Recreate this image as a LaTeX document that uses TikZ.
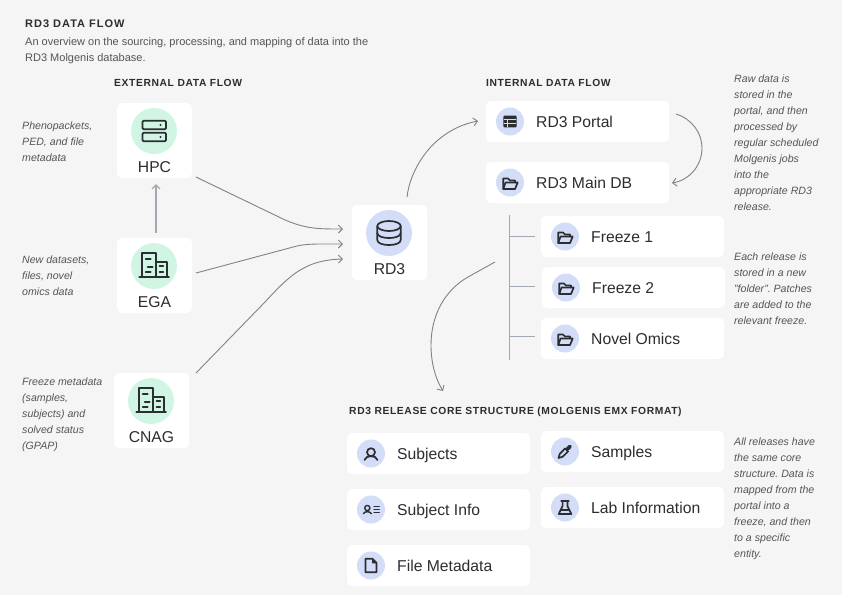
\documentclass[tikz,border=0pt]{standalone}
\usepackage{fontspec}
\usepackage{tikz}
\usetikzlibrary{arrows.meta}
\setmainfont{Liberation Sans}
\newfontfamily\headfont[LetterSpace=6]{Liberation Sans}
\newfontfamily\titlefont[LetterSpace=9]{Liberation Sans}
\definecolor{bgcolor}{RGB}{245,245,245}
\definecolor{inkcolor}{RGB}{43,45,48}
\definecolor{notecolor}{RGB}{85,85,88}
\definecolor{bluecolor}{RGB}{211,221,247}
\definecolor{greencolor}{RGB}{209,245,227}
\definecolor{flowcolor}{RGB}{125,131,140}
\definecolor{treecolor}{RGB}{163,169,178}
\tikzset{
    card/.style={fill=white, rounded corners=5pt, inner sep=0pt, outer sep=0pt},
    listcard/.style={card, minimum width=183pt, minimum height=41pt},
    bigcard/.style={card, minimum width=75pt, minimum height=75pt},
    bluedot/.style={circle, fill=bluecolor, minimum size=28pt, inner sep=0pt},
    greendot/.style={circle, fill=greencolor, minimum size=46pt, inner sep=0pt},
    listtext/.style={anchor=base west, inner sep=0pt, text=inkcolor, font=\fontsize{15.7}{18}\selectfont},
    bigtext/.style={anchor=base, inner sep=0pt, text=inkcolor, font=\fontsize{15.7}{18}\selectfont},
    heading/.style={anchor=base west, inner sep=0pt, text=inkcolor, font=\headfont\bfseries\fontsize{10.3}{12}\selectfont},
    bighead/.style={heading, font=\titlefont\bfseries\fontsize{11}{12}\selectfont},
    blurb/.style={anchor=north west, inner sep=0pt, align=left, text=notecolor, font=\fontsize{11}{16}\selectfont},
    note/.style={blurb, font=\itshape\fontsize{10.6}{16}\selectfont},
    flow/.style={draw=flowcolor, line width=0.9pt, -{Straight Barb[length=4pt,width=8pt]}},
    upflow/.style={flow, draw=treecolor, line width=1.3pt},
    treeline/.style={draw=treecolor, line width=0.9pt},
    icon/.style={draw=inkcolor, line width=1.7pt, line join=round, line cap=round},
    % Icons, drawn round the centre of their dot
    servericon/.pic={
        \draw[icon, rounded corners=1.2pt] (-11.5,-10.3) rectangle (12,-1.7);
        \draw[icon, rounded corners=1.2pt] (-11.5,1.7) rectangle (12,10.3);
        \fill[inkcolor] (6.5,-6) circle (1.2);
        \fill[inkcolor] (6.5,6) circle (1.2);
    },
    buildingicon/.pic={
        \draw[icon] (-14.7,10.7) -- (15,10.7);
        \draw[icon] (-12.3,10.7) -- (-12.3,-12.7) -- (2,-12.7) -- (2,10.7);
        \draw[icon] (2,-4.3) -- (12.7,-4.3) -- (12.7,10.7);
        \draw[icon] (-8.3,-7) -- (-3.3,-7);
        \draw[icon] (-6.3,0.7) -- (-1.3,0.7);
        \draw[icon] (-8.3,5.7) -- (-3.3,5.7);
        \draw[icon] (5.5,0) -- (9.3,0);
        \draw[icon] (5.5,5.7) -- (9.3,5.7);
    },
    dbicon/.pic={
        \draw[icon] (0,-7) ellipse (11.7 and 5);
        \draw[icon] (-11.7,-7) -- (-11.7,7) .. controls (-11.7,13.7) and (11.7,13.7) .. (11.7,7) -- (11.7,-7);
        \draw[icon] (-11.7,0) .. controls (-11.7,6.7) and (11.7,6.7) .. (11.7,0);
    },
    tableicon/.pic={
        \fill[inkcolor, rounded corners=1pt] (-6.7,-5.8) rectangle (6.7,5.8);
        \draw[bluecolor, line width=0.5pt] (-6,-2.4) -- (6,-2.4);
        \draw[bluecolor, line width=0.5pt] (-6,1.5) -- (6,1.5);
        \draw[bluecolor, line width=0.5pt] (-3,-2.4) -- (-3,5);
    },
    foldericon/.pic={
        \draw[icon] (-6.7,6.5) -- (-6.7,-4) -- (-2,-4) -- (0,-2) -- (5,-2) -- (5,0);
        \draw[icon] (-6.7,6.5) -- (5,6.5) -- (7.7,0) -- (-4.5,0) -- cycle;
    },
    usericon/.pic={
        \draw[icon] (0,-1.3) circle (4);
        \draw[icon] (-6.5,6.5) .. controls (-5.5,3.5) and (-3,2.7) .. (0,2.7) .. controls (3,2.7) and (5.5,3.5) .. (6.5,6.5);
    },
    contacticon/.pic={
        \draw[icon, line width=1.4pt] (-3.7,-1.5) circle (2.6);
        \draw[icon, line width=1.4pt] (-7.7,4.2) .. controls (-6.5,1.5) and (-1,1.5) .. (0.3,4.2);
        \draw[icon, line width=1.4pt] (3,-3) -- (8.3,-3);
        \draw[icon, line width=1.4pt] (3,0) -- (8.3,0);
        \draw[icon, line width=1.4pt] (3,3) -- (8.3,3);
    },
    fileicon/.pic={
        \draw[icon] (-5.5,-6.7) -- (1.5,-6.7) -- (5.5,-2.7) -- (5.5,6.7) -- (-5.5,6.7) -- cycle;
        \fill[inkcolor] (1,-6.7) -- (5.5,-2.2) -- (1,-2.2) -- cycle;
    },
    pipetteicon/.pic={
        \draw[icon] (-6.5,6.5) -- (-5.2,2.3) -- (0,-3) -- (3,0) -- (-2.3,5.2) -- cycle;
        \draw[icon, line width=3.6pt] (2.3,-2.3) -- (5,-5);
    },
    flaskicon/.pic={
        \draw[icon] (-3.8,-6.7) -- (3.8,-6.7);
        \draw[icon] (-2.4,-6.7) -- (-2.4,-1.5) -- (-6.3,6.5) -- (6.3,6.5) -- (2.4,-1.5) -- (2.4,-6.7);
        \draw[icon] (-4.3,2.6) -- (4.3,2.6);
    },
}

\begin{document}
\frenchspacing
\begin{tikzpicture}[x=1pt, y=-1pt, >=Stealth]
    % Page
    \fill[bgcolor] (0,0) rectangle (842,595);
    \useasboundingbox (0,0) rectangle (842,595);

    % Title and section headings
    \node[bighead] (title) at (25,27) {RD3 DATA FLOW};
    \node[blurb] (subtitle) at (25,37) {An overview on the sourcing, processing, and mapping of data into the\\RD3 Molgenis database.};
    \node[heading] (externalhead) at (114,86) {EXTERNAL DATA FLOW};
    \node[heading] (internalhead) at (486,86) {INTERNAL DATA FLOW};
    \node[heading] (corehead) at (349,414) {RD3 RELEASE CORE STRUCTURE (MOLGENIS EMX FORMAT)};

    % Square cards
    \foreach \id/\cx/\cy/\lbl in {hpc/154.5/140.5/HPC, ega/154.5/275.5/EGA, cnag/151.5/410.5/CNAG, rd3/389.5/242.5/RD3} {
        \node[bigcard] (\id) at (\cx,\cy) {};
        \node[bigtext] (\id text) at (\cx,\cy+31.5) {\lbl};
    }
    \node[greendot] (hpcdot) at (154,131) {};
    \node[greendot] (egadot) at (154,266) {};
    \node[greendot] (cnagdot) at (151,401) {};
    \node[greendot, fill=bluecolor] (rd3dot) at (389,233) {};
    \pic at (hpcdot) {servericon};
    \pic at (egadot) {buildingicon};
    \pic at (cnagdot) {buildingicon};
    \pic at (rd3dot) {dbicon};

    % Wide cards
    \foreach \id/\cx/\cy/\lbl in {portal/577.5/121.5/RD3 Portal, maindb/577.5/182.5/RD3 Main DB,
        freezeone/632.5/236.5/Freeze 1, freezetwo/633.5/287.5/Freeze 2, novel/632.5/338.5/Novel Omics,
        subjects/438.5/453.5/Subjects, subjectinfo/438.5/509.5/Subject Info, filemeta/438.5/565.5/File Metadata,
        samples/632.5/451.5/Samples, labinfo/632.5/507.5/Lab Information} {
        \node[listcard] (\id) at (\cx,\cy) {};
        \node[bluedot] (\id dot) at (\cx-67.5,\cy) {};
        \node[listtext] (\id text) at (\cx-41.5,\cy+5.8) {\lbl};
    }
    \pic at (portaldot) {tableicon};
    \pic at (maindbdot) {foldericon};
    \pic at (freezeonedot) {foldericon};
    \pic at (freezetwodot) {foldericon};
    \pic at (noveldot) {foldericon};
    \pic at (subjectsdot) {usericon};
    \pic at (subjectinfodot) {contacticon};
    \pic at (filemetadot) {fileicon};
    \pic at (samplesdot) {pipetteicon};
    \pic at (labinfodot) {flaskicon};

    % Side notes
    \node[note] (hpcnote) at (22,122) {Phenopackets,\\PED, and file\\metadata};
    \node[note] (eganote) at (22,256) {New datasets,\\files, novel\\omics data};
    \node[note] (cnagnote) at (22,378) {Freeze metadata\\(samples,\\subjects) and\\solved status\\(GPAP)};
    \node[note] (portalnote) at (734,75) {Raw data is\\stored in the\\portal, and then\\processed by\\regular scheduled\\Molgenis jobs\\into the\\appropriate RD3\\release.};
    \node[note] (freezenote) at (734,253) {Each release is\\stored in a new\\"folder". Patches\\are added to the\\relevant freeze.};
    \node[note] (corenote) at (734,438) {All releases have\\the same core\\structure. Data is\\mapped from the\\portal into a\\freeze, and then\\to a specific\\entity.};

    % External flows
    \draw[upflow] ([shift={(1.5,-5)}]ega.north) -- ([shift={(1.5,6)}]hpc.south);
    \draw[flow] ([shift={(4,-1)}]hpc.south east) -- (283,219) .. controls (305,229) and (318,229) .. ([shift={(-9,-13.5)}]rd3.west);
    \draw[flow] ([shift={(4,-2.5)}]ega.east) -- (297,246) .. controls (308,243.5) and (320,244) .. ([shift={(-9,1.5)}]rd3.west);
    \draw[flow] ([shift={(7,0)}]cnag.north east) -- (265,302) .. controls (290,275) and (305,260) .. ([shift={(-9,16.5)}]rd3.west);

    % Internal flows
    \draw[flow] ([shift={(17.5,-8)}]rd3.north) .. controls (410,170) and (432,130) .. ([shift={(-8,-0.5)}]portal.west);
    \draw[flow] ([shift={(7,-7.5)}]portal.east) .. controls (692,119) and (702,133) .. (702,148) .. controls (702,165) and (690,180) .. ([shift={(3,0.5)}]maindb.east);

    % Release tree
    \coordinate (treetop) at (509.5,215);
    \coordinate (treebottom) at (509.5,360);
    \draw[treeline] (treetop) -- (treebottom);
    \draw[treeline] (treetop |- freezeone.west) -- ([shift={(-6,0)}]freezeone.west);
    \draw[treeline] ([shift={(0,-1.5)}]treetop |- freezetwo.west) -- ([shift={(-7,-1.5)}]freezetwo.west);
    \draw[treeline] ([shift={(0,-2.5)}]treetop |- novel.west) -- ([shift={(-6,-2.5)}]novel.west);

    % Release to core structure
    \coordinate (corestart) at (495,262);
    \coordinate (coreend) at (443,391);
    \draw[flow] (corestart) -- (468,277) .. controls (445,290) and (431,315) .. (431,345) .. controls (431,362) and (435,378) .. (coreend);
\end{tikzpicture}
\end{document}
